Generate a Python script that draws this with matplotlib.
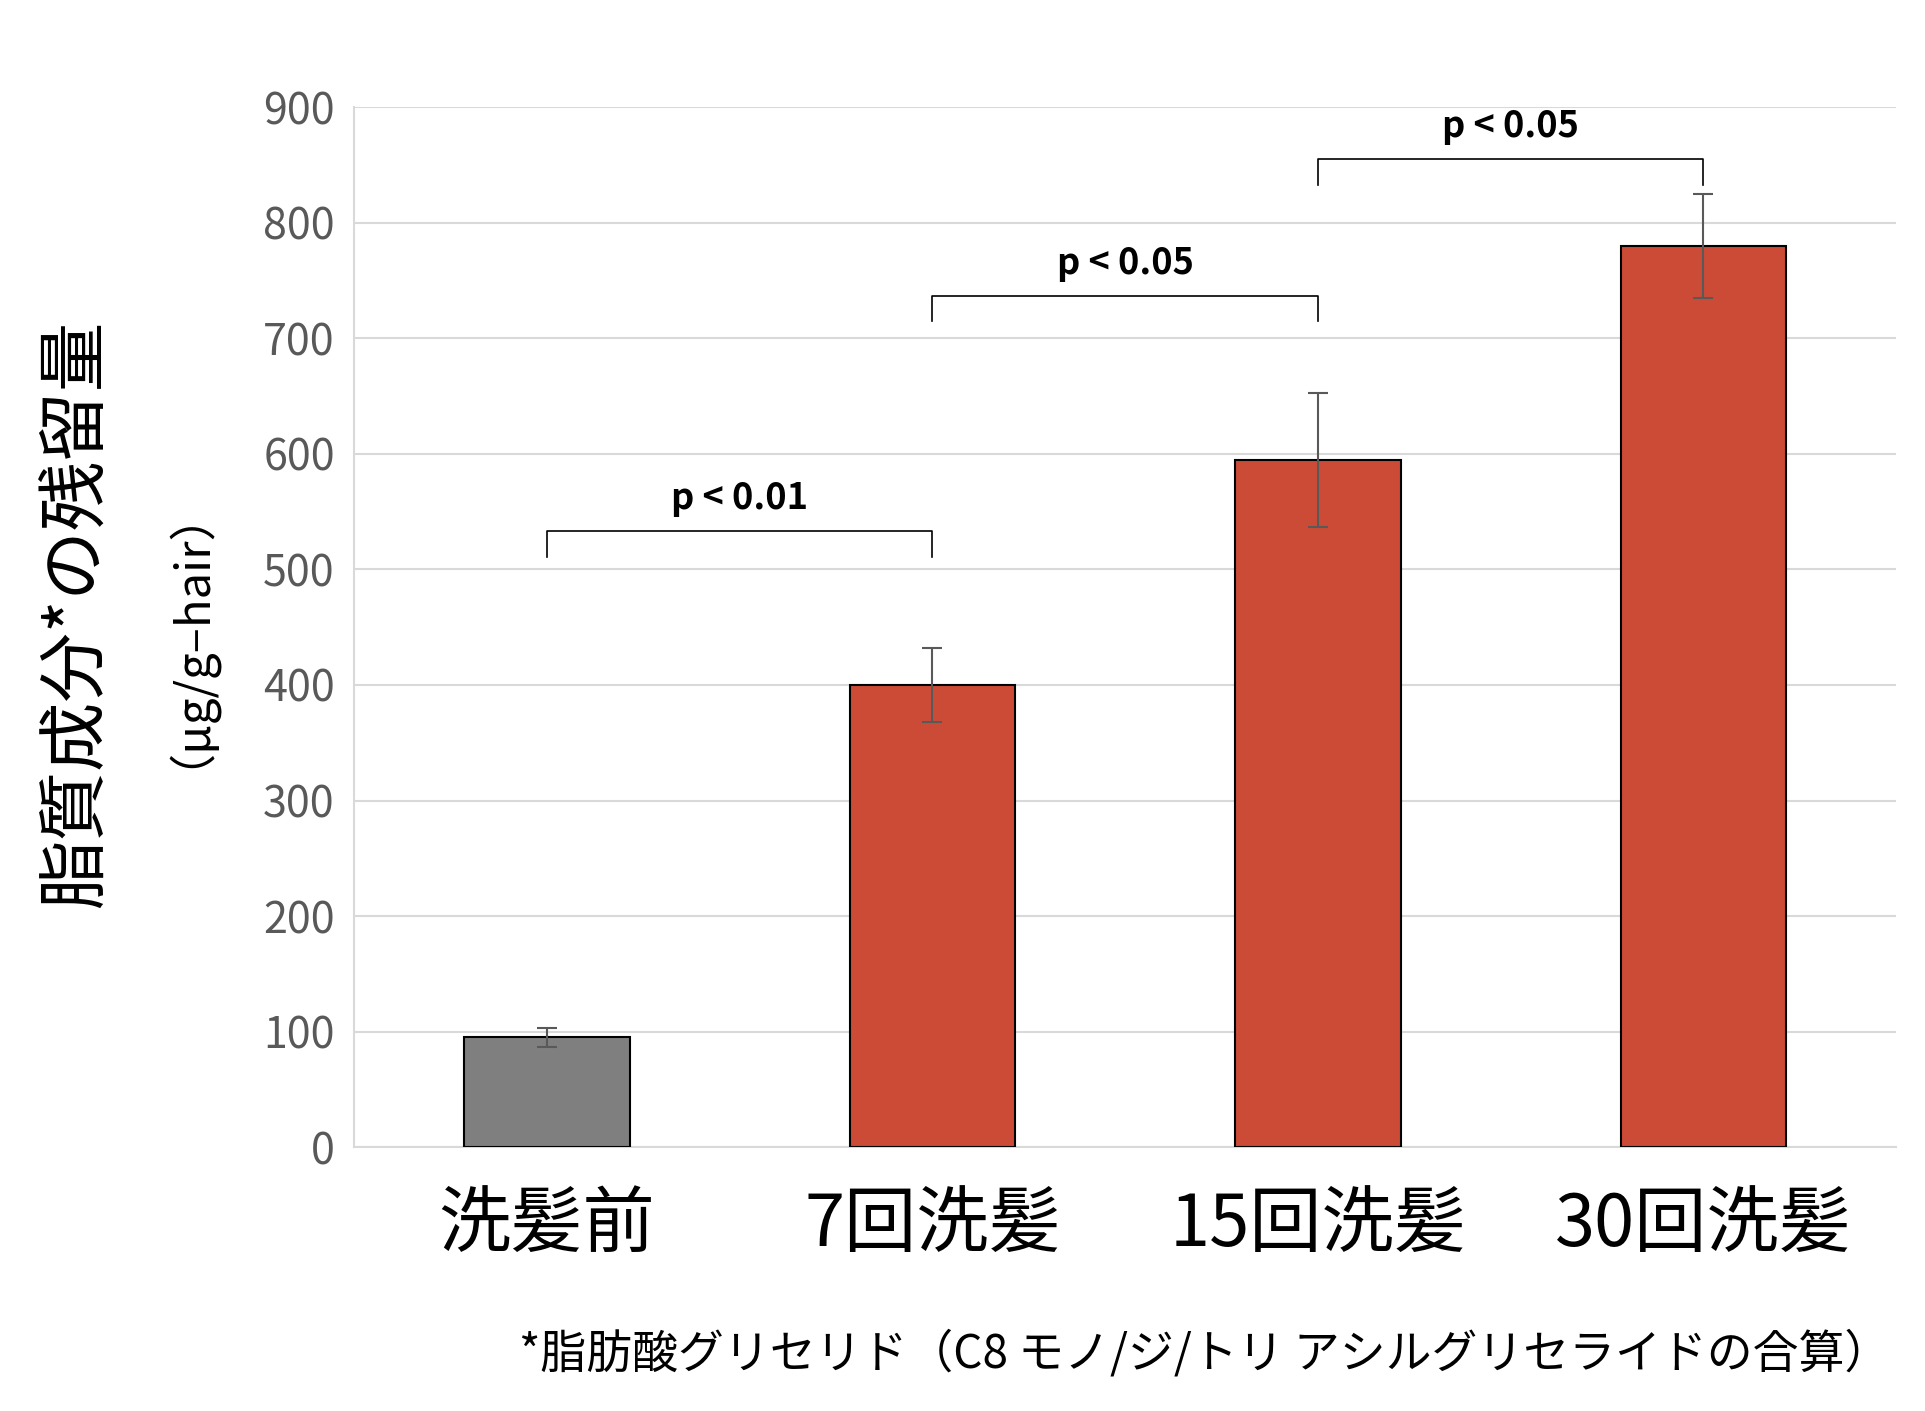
import matplotlib
matplotlib.use('Agg')
import matplotlib.pyplot as plt
import numpy as np

plt.rcParams['font.family'] = ['Noto Sans CJK JP', 'DejaVu Sans']

categories = ['洗髪前', '7回洗髪', '15回洗髪', '30回洗髪']
values = [95, 400, 595, 780]
errors = [8, 32, 58, 45]
colors = ['#7f7f7f', '#cc4b36', '#cc4b36', '#cc4b36']
# (left bar, right bar, bracket top, label)
brackets = [(0, 1, 533, 'p < 0.01'), (1, 2, 737, 'p < 0.05'), (2, 3, 855, 'p < 0.05')]

fig = plt.figure(figsize=(19.25, 14.11), dpi=100)
ax = fig.add_axes([0.184, 0.187, 0.801, 0.737])
x = np.arange(len(categories))
ax.bar(x, values, 0.43, color=colors, edgecolor='black', linewidth=1.5, zorder=3)
ax.errorbar(x, values, yerr=errors, fmt='none', ecolor='#595959',
            elinewidth=1.5, capsize=7, capthick=1.5, zorder=4)
ax.set_xlim(-0.5, 3.5)
ax.set_ylim(0, 900)
ax.set_yticks(range(0, 901, 100))
ax.yaxis.grid(True, color='#d9d9d9', linewidth=1.5, zorder=0)
for s in ['top', 'right']:
    ax.spines[s].set_visible(False)
ax.spines['left'].set_color('#d9d9d9')
ax.spines['bottom'].set_color('#d9d9d9')
ax.spines['left'].set_linewidth(1.5)
ax.spines['bottom'].set_linewidth(1.5)
ax.tick_params(axis='y', length=0, labelsize=31, labelcolor='#595959', pad=14)
ax.tick_params(axis='x', length=0, labelsize=52, pad=30)
ax.set_xticks(x)
ax.set_xticklabels(categories)

for a, b, top, label in brackets:
    ax.plot([a, a, b, b], [top - 22, top, top, top - 22], color='black', lw=1.2, zorder=5)
    ax.text((a + b) / 2, top + 12, label, ha='center', va='bottom',
            fontsize=26, fontweight='bold')

fig.text(0.04, 0.565, '脂質成分*の残留量', rotation=90, ha='center', va='center', fontsize=50)
fig.text(0.085, 0.565, '（μg/g–hair）', rotation=90, ha='center', va='center',
         fontsize=34, style='italic')
fig.text(0.982, 0.04, '*脂肪酸グリセリド（C8 モノ/ジ/トリ アシルグリセライドの合算）',
         ha='right', va='center', fontsize=33)

fig.savefig('out.png', dpi=100)
